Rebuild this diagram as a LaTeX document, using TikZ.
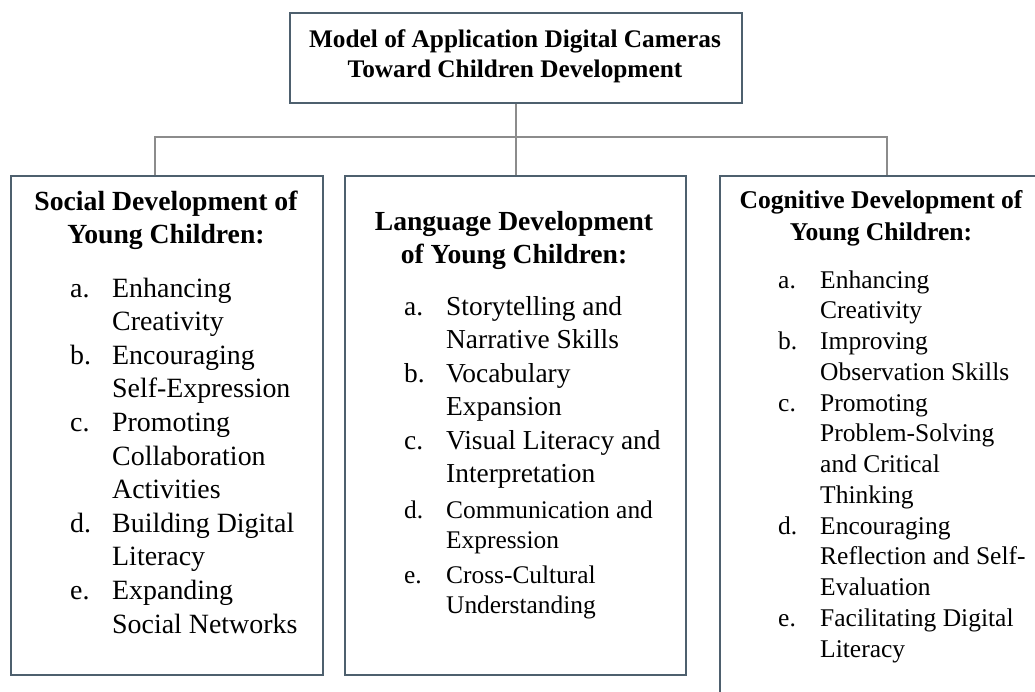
\documentclass[tikz,border=0pt]{standalone}
\usepackage{fontspec}
\setmainfont{Liberation Serif}
\usetikzlibrary{positioning}

\definecolor{boxline}{RGB}{78,96,110}
\definecolor{connline}{RGB}{140,140,140}

\begin{document}
\begin{tikzpicture}[x=1pt, y=-1pt,
		box/.style={draw=boxline, line width=2.4pt, inner sep=0pt, anchor=north west},
		conn/.style={draw=connline, line width=1.6pt},
		headtext/.style={inner sep=0pt, anchor=base, font=\bfseries},
		itemtext/.style={inner sep=0pt, anchor=base west}]
	\clip (0,0) rectangle (1035,691);
	\fill[white] (0,0) rectangle (1035,691);

	% boxes
	\node (title) [box, minimum width=452pt, minimum height=90pt] at (289,12) {};
	\node (social) [box, minimum width=312pt, minimum height=499pt] at (10,175) {};
	\node (lang) [box, minimum width=341pt, minimum height=499pt] at (344,175) {};
	\node (cog) [box, minimum width=334pt, minimum height=540pt] at (719,175) {};

	% connectors
	\coordinate (socialtop) at (155,175);
	\draw[conn] (title.south) -- (title.south |- lang.north);
	\draw[conn] (socialtop) -- ++(0,-38) -| (cog.north);

	% title text
	\node (titletext) [headtext, font=\fontsize{25.3}{30}\selectfont\bfseries] at (515,47)
		{\begin{tabular}[t]{@{}c@{}}Model of Application Digital Cameras\\Toward Children Development\end{tabular}};

	% headers
	\node (socialhead) [headtext, font=\fontsize{27.7}{33.5}\selectfont\bfseries] at (166,210)
		{\begin{tabular}[t]{@{}c@{}}Social Development of\\Young Children:\end{tabular}};
	\node (langhead) [headtext, font=\fontsize{27.6}{33}\selectfont\bfseries] at (514,230)
		{\begin{tabular}[t]{@{}c@{}}Language Development\\of Young Children:\end{tabular}};
	\node (coghead) [headtext, font=\fontsize{25.6}{32}\selectfont\bfseries] at (881,208)
		{\begin{tabular}[t]{@{}c@{}}Cognitive Development of\\Young Children:\end{tabular}};

	% lists
	\node (socialitems) [itemtext, font=\fontsize{27.9}{33.6}\selectfont] at (70,297)
		{\begin{tabular}[t]{@{}p{42pt}@{}l@{}}
			a. & Enhancing\\ & Creativity\\
			b. & Encouraging\\ & Self-Expression\\
			c. & Promoting\\ & Collaboration\\ & Activities\\
			d. & Building Digital\\ & Literacy\\
			e. & Expanding\\ & Social Networks
		\end{tabular}};
	\node (langitems) [itemtext, font=\fontsize{27.4}{33.5}\selectfont] at (404,315)
		{\begin{tabular}[t]{@{}p{42pt}@{}l@{}}
			a. & Storytelling and\\ & Narrative Skills\\
			b. & Vocabulary\\ & Expansion\\
			c. & Visual Literacy and\\ & Interpretation
		\end{tabular}};
	\node (langitemsb) [itemtext, font=\fontsize{25.4}{30.5}\selectfont] at (404,518)
		{\begin{tabular}[t]{@{}p{42pt}@{}l@{}}
			d. & Communication and\\ & Expression\\[4pt]
			e. & Cross-Cultural\\ & Understanding
		\end{tabular}};
	\node (cogitems) [itemtext, font=\fontsize{25.5}{30.75}\selectfont] at (778,288)
		{\begin{tabular}[t]{@{}p{42pt}@{}l@{}}
			a. & Enhancing\\ & Creativity\\
			b. & Improving\\ & Observation Skills\\
			c. & Promoting\\ & Problem-Solving\\ & and Critical\\ & Thinking\\
			d. & Encouraging\\ & Reflection and Self-\\ & Evaluation\\
			e. & Facilitating Digital\\ & Literacy
		\end{tabular}};
\end{tikzpicture}
\end{document}
